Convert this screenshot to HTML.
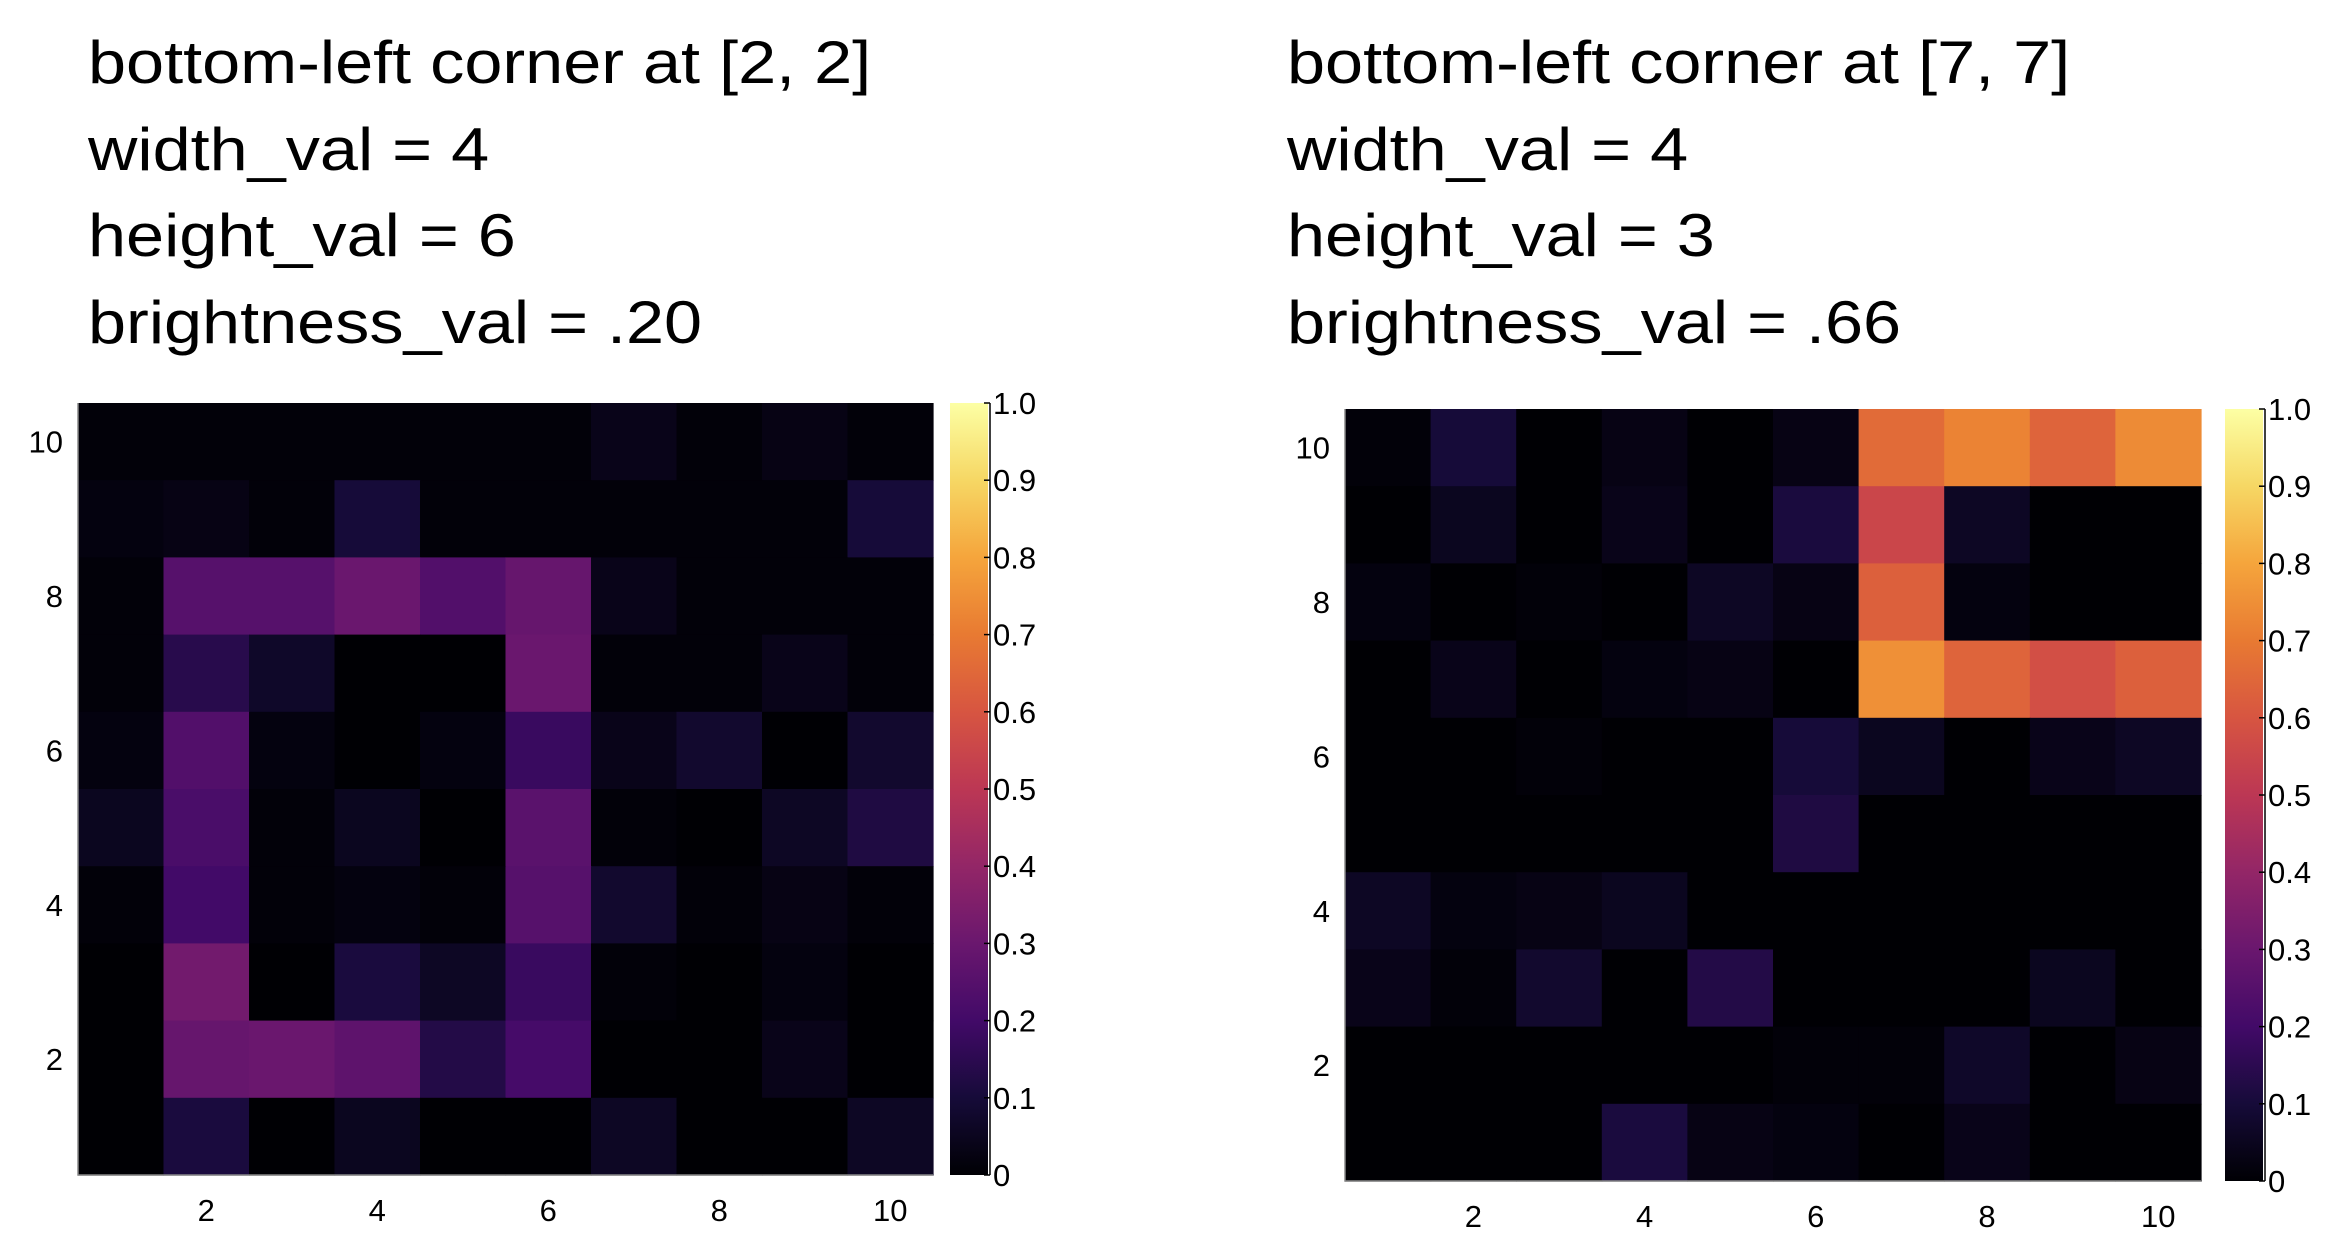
<!DOCTYPE html>
<html><head><meta charset="utf-8"><style>
body{margin:0;background:#fff;width:2338px;height:1252px;overflow:hidden;font-family:"Liberation Sans",sans-serif}
.t{position:absolute;font-size:60px;line-height:86.5px;color:#000;white-space:pre;transform:scaleX(1.14);transform-origin:0 0}
</style></head><body>
<div class="t" style="left:88px;top:20px">bottom-left corner at [2, 2]
width_val = 4
height_val = 6
brightness_val = .20</div>
<div class="t" style="left:1287px;top:20px">bottom-left corner at [7, 7]
width_val = 4
height_val = 3
brightness_val = .66</div>
<svg id="s" width="2338" height="1252" style="position:absolute;left:0;top:0"></svg>
<script>
// rows listed from y=10 (top) down to y=1
const leftValues=[
[0.01,0.01,0.01,0.01,0.01,0.01,0.04,0.01,0.03,0.01],
[0.02,0.03,0.01,0.10,0.01,0.01,0.01,0.01,0.01,0.10],
[0.01,0.25,0.25,0.30,0.24,0.29,0.04,0.01,0.01,0.01],
[0.01,0.14,0.07,0.00,0.00,0.30,0.01,0.01,0.04,0.01],
[0.02,0.24,0.02,0.00,0.02,0.18,0.04,0.08,0.00,0.08],
[0.05,0.22,0.01,0.05,0.00,0.26,0.01,0.00,0.06,0.12],
[0.01,0.20,0.01,0.02,0.01,0.25,0.08,0.01,0.03,0.01],
[0.00,0.32,0.00,0.11,0.06,0.18,0.01,0.00,0.02,0.00],
[0.00,0.29,0.30,0.27,0.13,0.21,0.00,0.00,0.04,0.00],
[0.00,0.11,0.00,0.05,0.00,0.00,0.06,0.00,0.00,0.06]];
const rightValues=[
[0.01,0.10,0.00,0.03,0.00,0.03,0.66,0.72,0.64,0.74],
[0.00,0.05,0.00,0.04,0.00,0.11,0.55,0.06,0.00,0.00],
[0.02,0.00,0.01,0.00,0.06,0.03,0.63,0.02,0.00,0.00],
[0.00,0.04,0.00,0.02,0.03,0.00,0.75,0.64,0.58,0.63],
[0.00,0.00,0.01,0.00,0.00,0.10,0.05,0.00,0.04,0.06],
[0.00,0.00,0.00,0.00,0.00,0.12,0.00,0.00,0.00,0.00],
[0.06,0.02,0.03,0.05,0.00,0.00,0.00,0.00,0.00,0.00],
[0.04,0.01,0.08,0.00,0.13,0.00,0.00,0.00,0.05,0.00],
[0.00,0.00,0.00,0.00,0.00,0.01,0.01,0.07,0.00,0.03],
[0.00,0.00,0.00,0.11,0.03,0.02,0.00,0.04,0.00,0.00]];
const axisTicks=[2,4,6,8,10];
const cbTicks=[0,0.1,0.2,0.3,0.4,0.5,0.6,0.7,0.8,0.9,1.0];
const cbLabels=["0","0.1","0.2","0.3","0.4","0.5","0.6","0.7","0.8","0.9","1.0"];
const stops=[[0,0,0,4],[0.1,22,11,57],[0.2,66,10,104],[0.3,106,23,110],[0.4,147,38,103],[0.5,188,55,84],[0.6,215,85,65],[0.7,232,122,50],[0.8,245,165,60],[0.9,246,215,100],[1,252,255,164]];
function inferno(v){v=Math.max(0,Math.min(1,v));for(let i=1;i<stops.length;i++){if(v<=stops[i][0]){const a=stops[i-1],b=stops[i],t=(v-a[0])/(b[0]-a[0]);return `rgb(${[1,2,3].map(k=>Math.round(a[k]+(b[k]-a[k])*t)).join(',')})`;}}return 'rgb(252,255,164)';}
const NS='http://www.w3.org/2000/svg',svg=document.getElementById('s');
function mk(tag,at,txt){const e=document.createElementNS(NS,tag);for(const k in at)e.setAttribute(k,at[k]);if(txt!==undefined)e.textContent=txt;svg.appendChild(e);return e;}
function panel(vals,x0,x1,y0,y1,cbx,cbw,id){
  const n=10,cw=(x1-x0)/n,ch=(y1-y0)/n;
  const xs=c=>x0+(c-0.5)*cw, ys=r=>y1-(r-0.5)*ch;
  vals.forEach((row,ri)=>row.forEach((v,ci)=>{
    const yv=10-ri,xv=ci+1;
    const r=mk('rect',{x:xs(xv)-cw/2,y:ys(yv)-ch/2,width:cw+0.6,height:ch+0.6,fill:inferno(v)});
    
    
  }));
  const ax=mk('path',{d:`M${x0} ${y0}V${y1}H${x1}`,stroke:'#888',fill:'none','stroke-width':1.5});
  
  
  axisTicks.forEach(t=>{
    const a=mk('text',{x:xs(t),y:y1+46,'font-size':31,'text-anchor':'middle'},String(t));
    
    
    const b=mk('text',{x:x0-15,y:ys(t)+11,'font-size':31,'text-anchor':'end'},String(t));
    
    
  });
  const g=mk('defs',{});g.innerHTML=`<linearGradient id="g${id}" x1="0" y1="1" x2="0" y2="0">${stops.map(s=>`<stop offset="${s[0]}" stop-color="rgb(${s[1]},${s[2]},${s[3]})"/>`).join('')}</linearGradient>`;
  const cb=mk('rect',{x:cbx,y:y0,width:cbw,height:y1-y0,fill:`url(#g${id})`});
  
  
  const lx=cbx+cbw+2;
  mk('line',{x1:lx,y1:y0,x2:lx,y2:y1,stroke:'#000','stroke-width':1.5});
  cbTicks.forEach((t,i)=>{
    const y=y1-t*(y1-y0);
    mk('line',{x1:lx-6,y1:y,x2:lx,y2:y,stroke:'#000','stroke-width':1.5});
    const l=mk('text',{x:lx+3,y:y+11,'font-size':31},cbLabels[i]);
    
    
  });
}
panel(leftValues,78,933,403,1175,950,38,'L');
panel(rightValues,1345,2201,409,1181,2225,38,'R');
</script></body></html>
